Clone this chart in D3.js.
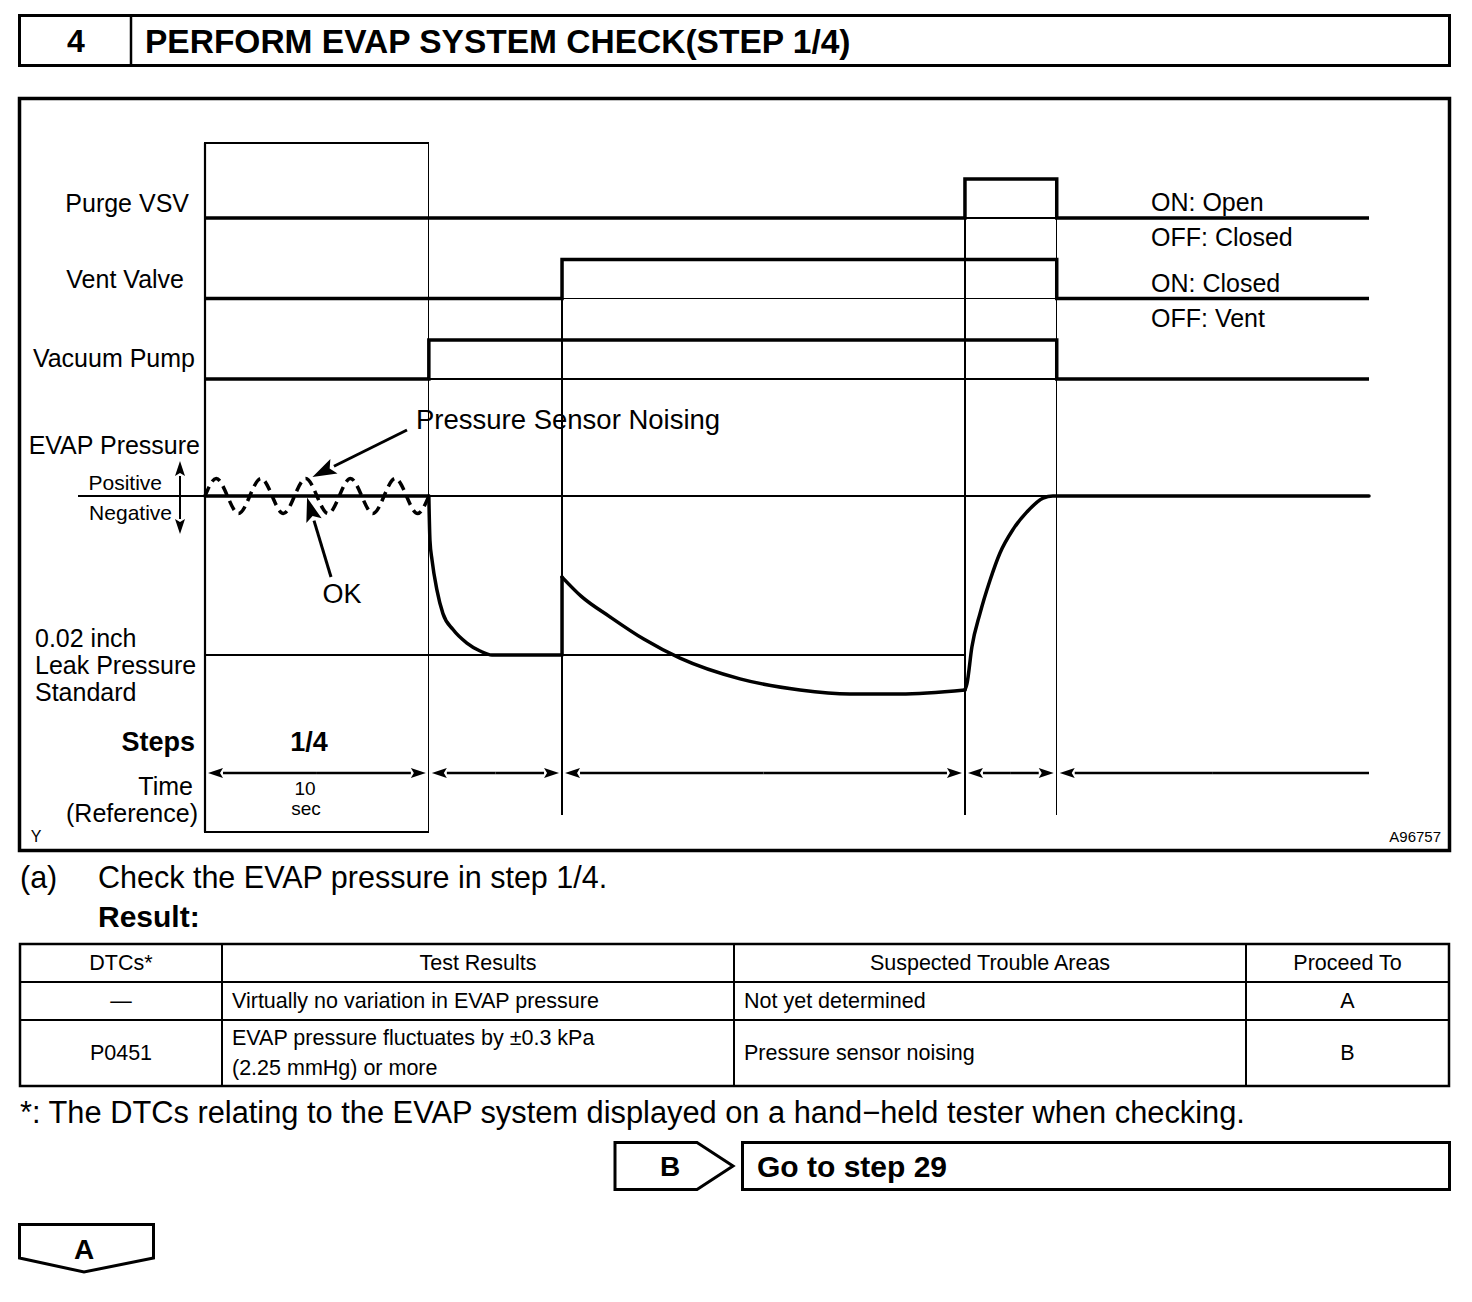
<!DOCTYPE html>
<html>
<head>
<meta charset="utf-8">
<script src="https://cdn.jsdelivr.net/npm/d3@7"></script>
<style>
  body { margin: 0; background: #fff; }
  svg { display: block; }
  text { font-family: "Liberation Sans", Arial, sans-serif; fill: #000; }
</style>
</head>
<body>
<svg id="chart" width="1472" height="1302"></svg>
<script>
// step boundaries, seconds (reference time)
const stepTimes = [0, 10, 15.95, 33.95, 38.05, 52];

// on/off signals
const signalNames = ["Purge VSV", "Vent Valve", "Vacuum Pump"];
const signalOnFrom = [33.95, 15.95, 10];
const signalOnTo = [38.05, 38.05, 38.05];
const stateLabels = [["ON: Open", "OFF: Closed"], ["ON: Closed", "OFF: Vent"]];

// EVAP pressure (relative, leak standard = -1)
const noiseT = [0, 0.5, 1, 1.5, 2, 2.5, 3, 3.5, 4, 4.5, 5, 5.5, 6, 6.5, 7, 7.5, 8, 8.5, 9, 9.5, 10];
const noiseP = [0, 0.11, 0, -0.11, 0, 0.11, 0, -0.11, 0, 0.11, 0, -0.11, 0, 0.11, 0, -0.11, 0, 0.11, 0, -0.11, 0];
const okT = [0, 10];
const okP = [0, 0];
const drawdownT = [10, 10.05, 10.14, 10.36, 10.63, 11.08, 11.7, 12.29, 12.82, 15.95];
const drawdownP = [0, -0.28, -0.4, -0.59, -0.74, -0.84, -0.925, -0.975, -1.0, -1.0];
const jumpT = [15.95, 15.95];
const jumpP = [-1.0, -0.51];
const holdT = [15.95, 16.8, 18.09, 19.6, 21.22, 23.9, 26.58, 28.81, 31.05, 33.95];
const holdP = [-0.51, -0.63, -0.76, -0.9, -1.02, -1.15, -1.22, -1.245, -1.245, -1.22];
const releaseT = [33.95, 34.04, 34.26, 34.62, 35.07, 35.51, 36.1, 36.72, 37.44, 37.88, 52];
const releaseP = [-1.22, -1.18, -0.95, -0.74, -0.53, -0.36, -0.21, -0.1, -0.013, 0, 0];
const leakStandard = -1.0;

// result table
const tableHeader = ["DTCs*", "Test Results", "Suspected Trouble Areas", "Proceed To"];
const tableDtc = ["\u2014", "P0451"];
const tableResult = [["Virtually no variation in EVAP pressure"], ["EVAP pressure fluctuates by \u00b10.3 kPa", "(2.25 mmHg) or more"]];
const tableArea = ["Not yet determined", "Pressure sensor noising"];
const tableProceed = ["A", "B"];

const svg = d3.select("#chart");

const x = d3.scaleLinear().domain([0, 52]).range([205, 1369]);
const yP = d3.scaleLinear().domain([0, -1]).range([496, 655]);
const yS = d3.scalePoint().domain(signalNames).range([218, 379]);
const highOff = 39;

const label = (t, px, py, opts = {}) =>
  svg.append("text")
    .attr("x", px).attr("y", py)
    .attr("dominant-baseline", "central")
    .attr("text-anchor", opts.anchor || "start")
    .attr("font-size", opts.size || 25)
    .attr("font-weight", opts.bold ? "bold" : null)
    .text(t);

const hline = (x1, x2, y, w) => svg.append("line").attr("x1", x1).attr("x2", x2).attr("y1", y).attr("y2", y)
  .attr("stroke", "#000").attr("stroke-width", w).attr("shape-rendering", w < 2 ? "crispEdges" : null);
const vline = (xx, y1, y2, w) => svg.append("line").attr("x1", xx).attr("x2", xx).attr("y1", y1).attr("y2", y2)
  .attr("stroke", "#000").attr("stroke-width", w).attr("shape-rendering", w < 2 ? "crispEdges" : null);

// header
svg.append("rect").attr("x", 19.5).attr("y", 15.5).attr("width", 1430).attr("height", 50)
  .attr("fill", "none").attr("stroke", "#000").attr("stroke-width", 3);
vline(131, 15.5, 65.5, 2.5);
label("4", 76, 41, { anchor: "middle", size: 32, bold: true });
label("PERFORM EVAP SYSTEM CHECK(STEP 1/4)", 145, 41, { size: 33.5, bold: true });

// diagram frame
svg.append("rect").attr("x", 19.5).attr("y", 98.5).attr("width", 1430).attr("height", 752)
  .attr("fill", "none").attr("stroke", "#000").attr("stroke-width", 3.5);

// step 1/4 box
svg.append("rect").attr("x", x(0)).attr("y", 143).attr("width", x(10) - x(0)).attr("height", 832 - 143)
  .attr("fill", "none").attr("stroke", "#000").attr("stroke-width", 1.3).attr("shape-rendering", "crispEdges");
vline(x(0), 143, 832, 2.2);

// thin step boundaries
vline(x(stepTimes[2]), yS("Vent Valve") - highOff, 815, 1.3);
vline(x(stepTimes[3]), yS("Purge VSV") - highOff, 815, 1.3);
vline(x(stepTimes[4]), yS("Purge VSV") - highOff, 815, 1.3);

// signals
signalNames.forEach((name, i) => {
  const base = yS(name);
  hline(x(0), x(52), base, 1.3);
  const pts = [[0, base], [signalOnFrom[i], base], [signalOnFrom[i], base - highOff],
    [signalOnTo[i], base - highOff], [signalOnTo[i], base], [52, base]];
  svg.append("path")
    .attr("d", d3.line().x(d => x(d[0])).y(d => d[1])(pts))
    .attr("fill", "none").attr("stroke", "#000").attr("stroke-width", 3.5)
    .attr("stroke-linejoin", "miter");
});
label("Purge VSV", 189, 203, { anchor: "end" });
label("Vent Valve", 184, 279, { anchor: "end" });
label("Vacuum Pump", 195, 358, { anchor: "end" });

stateLabels.forEach((pair, i) => {
  const base = yS(signalNames[i]);
  label(pair[0], 1151, base - 16);
  label(pair[1], 1151, base + 19);
});

// pressure axis lines
hline(78, x(52), yP(0), 1.3);
hline(x(0), x(stepTimes[3]), yP(leakStandard), 1.3);

const pLine = d3.line().x(d => x(d[0])).y(d => yP(d[1])).curve(d3.curveMonotoneX);
const zipTP = (ts, ps) => ts.map((t, i) => [t, ps[i]]);

svg.append("path")
  .attr("d", d3.line().x(d => x(d[0])).y(d => yP(d[1])).curve(d3.curveNatural)(zipTP(noiseT, noiseP)))
  .attr("fill", "none").attr("stroke", "#000").attr("stroke-width", 3.5)
  .attr("stroke-dasharray", "10,6");

[[okT, okP], [drawdownT, drawdownP], [holdT, holdP], [releaseT, releaseP]].forEach(([ts, ps]) => {
  svg.append("path").attr("d", pLine(zipTP(ts, ps)))
    .attr("fill", "none").attr("stroke", "#000").attr("stroke-width", 3.5)
    .attr("stroke-linecap", "round").attr("stroke-linejoin", "round");
});
svg.append("path").attr("d", d3.line().x(d => x(d[0])).y(d => yP(d[1]))(zipTP(jumpT, jumpP)))
  .attr("fill", "none").attr("stroke", "#000").attr("stroke-width", 3.5).attr("stroke-linecap", "round");

// arrow helper
function arrow(x1, y1, x2, y2, len, half, w) {
  const a = Math.atan2(y2 - y1, x2 - x1);
  const bx = x2 - len * Math.cos(a), by = y2 - len * Math.sin(a);
  svg.append("line").attr("x1", x1).attr("y1", y1).attr("x2", bx).attr("y2", by)
    .attr("stroke", "#000").attr("stroke-width", w);
  const px = -Math.sin(a) * half, py = Math.cos(a) * half;
  svg.append("path")
    .attr("d", `M${x2},${y2}L${bx + px},${by + py}L${x2 - len * 0.8 * Math.cos(a)},${y2 - len * 0.8 * Math.sin(a)}L${bx - px},${by - py}Z`)
    .attr("fill", "#000");
}

label("EVAP Pressure", 200, 445, { anchor: "end" });
label("Positive", 162, 482, { anchor: "end", size: 21 });
label("Negative", 172, 512, { anchor: "end", size: 21 });
arrow(180, 496, 180, 461, 15, 5, 2);
arrow(180, 496, 180, 534, 15, 5, 2);

label("Pressure Sensor Noising", 416, 419, { size: 27.5 });
arrow(407, 430, x(4.8), yP(0.12), 24, 8, 3);
label("OK", 342, 594, { anchor: "middle", size: 27 });
arrow(331, 577, x(4.56), yP(-0.01), 24, 8, 3);

label("0.02 inch", 35, 638);
label("Leak Pressure", 35, 665);
label("Standard", 35, 692);

label("Steps", 195, 742, { anchor: "end", size: 27, bold: true });
label("1/4", 309, 742, { anchor: "middle", size: 27, bold: true });
label("Time", 193, 786);
svg.select("text:last-child").attr("text-anchor", "end");
label("(Reference)", 198, 813, { anchor: "end" });
label("10", 305, 788, { anchor: "middle", size: 19 });
label("sec", 306, 808, { anchor: "middle", size: 19 });
label("Y", 36, 836, { anchor: "middle", size: 16 });
label("A96757", 1441, 836, { anchor: "end", size: 15 });

// time arrows
const yT = 773;
for (let i = 0; i < stepTimes.length - 1; i++) {
  const a = x(stepTimes[i]) + 3, b = x(stepTimes[i + 1]) - 3;
  const last = i === stepTimes.length - 2;
  const mid = (a + b) / 2;
  arrow(mid, yT, a, yT, 15, 5, 2.5);
  if (last) hline(mid, x(52), yT, 2.5);
  else arrow(mid, yT, b, yT, 15, 5, 2.5);
}

// text below the diagram
label("(a)", 20, 877, { size: 30.5 });
label("Check the EVAP pressure in step 1/4.", 98, 877, { size: 30.5 });
label("Result:", 98, 916, { size: 30, bold: true });

const colEdges = [20, 222, 734, 1246, 1449];
const rowEdges = [944, 982, 1020, 1086];
svg.append("rect").attr("x", colEdges[0]).attr("y", rowEdges[0])
  .attr("width", colEdges[4] - colEdges[0]).attr("height", rowEdges[3] - rowEdges[0])
  .attr("fill", "none").attr("stroke", "#000").attr("stroke-width", 2.5);
colEdges.slice(1, 4).forEach(c => vline(c, rowEdges[0], rowEdges[3], 2));
rowEdges.slice(1, 3).forEach(r => hline(colEdges[0], colEdges[4], r, 2));
const colMid = i => (colEdges[i] + colEdges[i + 1]) / 2;
const rowMid = i => (rowEdges[i] + rowEdges[i + 1]) / 2;
tableHeader.forEach((h, i) => label(h, colMid(i), rowMid(0), { anchor: "middle", size: 21.5 }));
tableDtc.forEach((d, r) => {
  label(d, colMid(0), rowMid(r + 1), { anchor: "middle", size: 21.5 });
  const lines = tableResult[r];
  lines.forEach((ln, k) => label(ln, colEdges[1] + 10, rowMid(r + 1) + (k - (lines.length - 1) / 2) * 30, { size: 21.5 }));
  label(tableArea[r], colEdges[2] + 10, rowMid(r + 1), { size: 21.5 });
  label(tableProceed[r], colMid(3), rowMid(r + 1), { anchor: "middle", size: 21.5 });
});

label("*: The DTCs relating to the EVAP system displayed on a hand\u2212held tester when checking.", 20, 1112, { size: 30.8 });

// B -> go to step 29
svg.append("path").attr("d", "M615,1142.5L697,1142.5L733,1166L697,1189.5L615,1189.5Z")
  .attr("fill", "none").attr("stroke", "#000").attr("stroke-width", 3);
label("B", 670, 1166, { anchor: "middle", size: 28, bold: true });
svg.append("rect").attr("x", 742.5).attr("y", 1142.5).attr("width", 707).attr("height", 47)
  .attr("fill", "none").attr("stroke", "#000").attr("stroke-width", 3);
label("Go to step 29", 757, 1166, { size: 30, bold: true });

// A
svg.append("path").attr("d", "M19.5,1224.5L153.5,1224.5L153.5,1258L84,1272L19.5,1258Z")
  .attr("fill", "none").attr("stroke", "#000").attr("stroke-width", 3);
label("A", 84, 1249, { anchor: "middle", size: 28, bold: true });
</script>
</body>
</html>
